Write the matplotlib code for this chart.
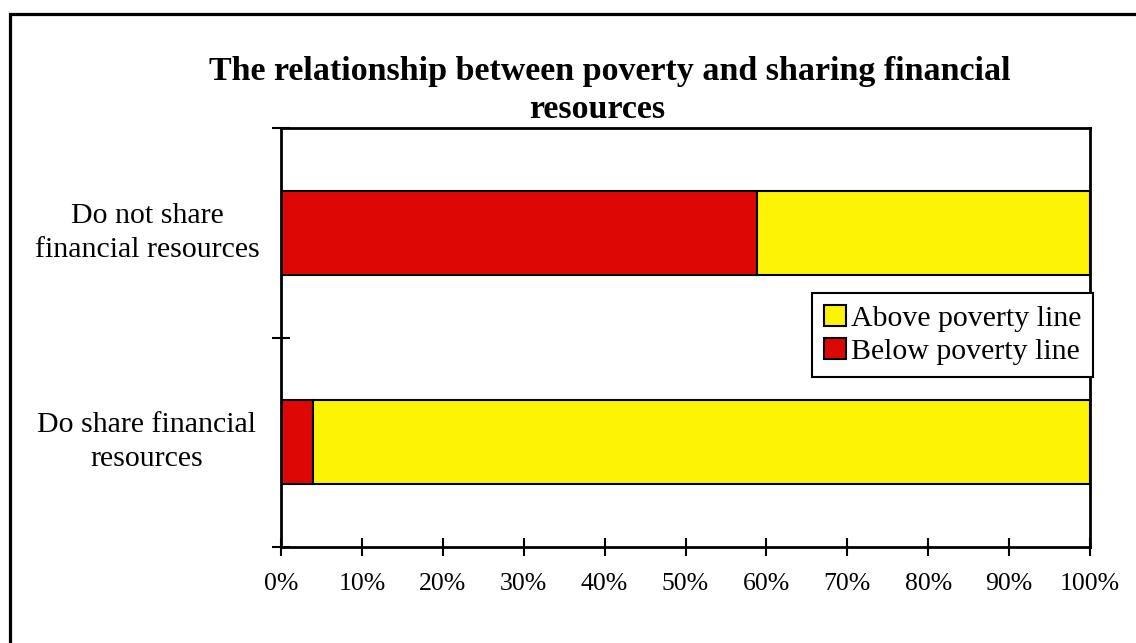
import matplotlib
matplotlib.use("Agg")
import matplotlib.pyplot as plt
from matplotlib.patches import Rectangle
from matplotlib.ticker import FixedLocator

plt.rcParams['font.family'] = ['Liberation Serif', 'DejaVu Serif']

categories = ['Do share financial\nresources', 'Do not share\nfinancial resources']
below = [4.0, 58.8]
above = [96.0, 41.2]
xticks = [0, 10, 20, 30, 40, 50, 60, 70, 80, 90, 100]
xlabels = ['%d%%' % t for t in xticks]

RED = '#DD0806'
YELLOW = '#FCF305'

W, H = 1136, 643
fig = plt.figure(figsize=(W / 100, H / 100), dpi=100)
ax = fig.add_axes([281 / W, 1 - 547 / H, (1090 - 281) / W, (547 - 128) / H])

pos = list(range(len(categories)))
ax.barh(pos, below, height=0.4, color=RED, edgecolor='black', linewidth=1.5,
        label='Below poverty line', zorder=2)
ax.barh(pos, above, left=below, height=0.4, color=YELLOW, edgecolor='black',
        linewidth=1.5, label='Above poverty line', zorder=2)

ax.set_xlim(0, 100)
ax.set_ylim(-0.5, 1.5)

ax.set_xticks(xticks)
ax.set_xticklabels(xlabels, fontsize=18.5)
ax.yaxis.set_major_locator(FixedLocator([-0.5, 0.5, 1.5]))
ax.yaxis.set_major_formatter(plt.NullFormatter())
ax.yaxis.set_minor_locator(FixedLocator(pos))
ax.set_yticklabels(categories, minor=True, fontsize=21.5, ha='center',
                   va='center', multialignment='center', linespacing=1.4)
ax.tick_params(axis='y', which='minor', length=0, pad=96.5)
ax.tick_params(axis='both', which='major', direction='inout', length=13,
               width=1.5, color='black')
ax.tick_params(axis='x', pad=12)

for s in ax.spines.values():
    s.set_linewidth(2)
    s.set_color('black')

handles, labels = ax.get_legend_handles_labels()
leg = ax.legend(handles[::-1], labels[::-1], loc='upper left',
                bbox_to_anchor=(812 / W, 1 - 293 / H), bbox_transform=fig.transFigure,
                fontsize=21.5, frameon=True, fancybox=False, framealpha=1,
                edgecolor='black', handlelength=0.75, handleheight=0.7,
                handletextpad=0.15, borderpad=0.4, labelspacing=0.2,
                borderaxespad=0)
leg.get_frame().set_linewidth(1.5)
leg.set_zorder(5)

fig.text(610 / W, 1 - 80 / H, 'The relationship between poverty and sharing financial',
         ha='center', va='baseline', fontsize=24.5, fontweight='bold')
fig.text(597 / W, 1 - 118 / H, 'resources', ha='center', va='baseline',
         fontsize=24.5, fontweight='bold')

# outer frame, left and top edges visible
fig.add_artist(Rectangle((9.5 / W, -0.1), 1.2, 1 - 13.5 / H + 0.1,
                         transform=fig.transFigure, fill=False,
                         edgecolor='black', linewidth=2.3))

fig.savefig('out.png', dpi=100)
